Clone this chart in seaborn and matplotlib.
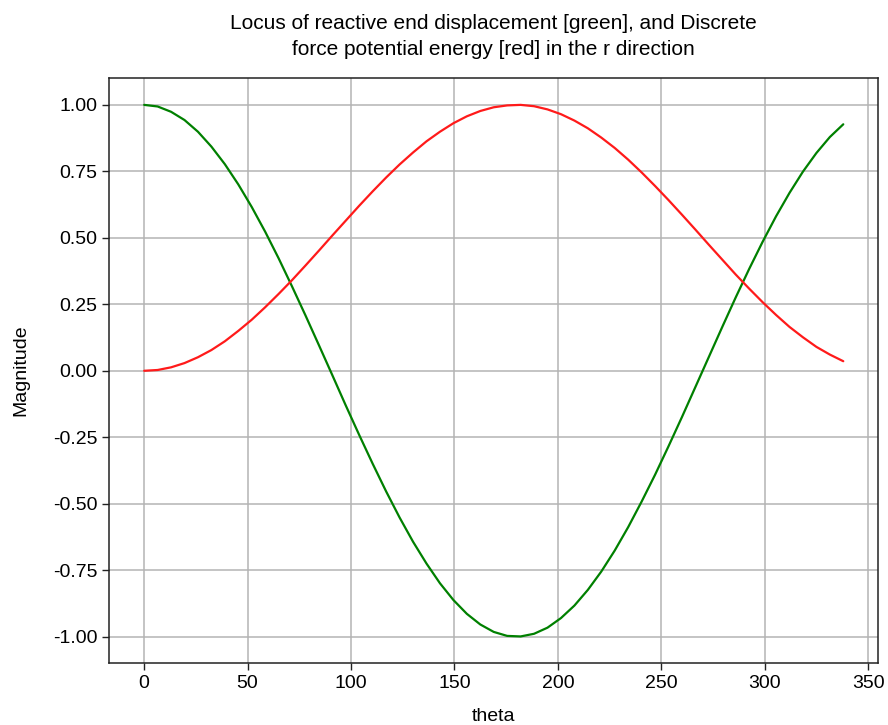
import matplotlib
matplotlib.use('Agg')
import matplotlib.pyplot as plt
import seaborn as sns

# theta in degrees
theta = [0, 6.5, 13, 19.5, 26, 32.5, 39, 45.5, 52, 58.5, 65, 71.5, 78, 84.5,
         91, 97.5, 104, 110.5, 117, 123.5, 130, 136.5, 143, 149.5, 156, 162.5,
         169, 175.5, 182, 188.5, 195, 201.5, 208, 214.5, 221, 227.5, 234,
         240.5, 247, 253.5, 260, 266.5, 273, 279.5, 286, 292.5, 299, 305.5,
         312, 318.5, 325, 331.5, 338]
displacement = [1.000, 0.994, 0.974, 0.943, 0.899, 0.843, 0.777, 0.701,
                0.616, 0.523, 0.423, 0.317, 0.208, 0.096, -0.017, -0.131,
                -0.242, -0.350, -0.454, -0.552, -0.643, -0.725, -0.799,
                -0.862, -0.914, -0.954, -0.982, -0.997, -0.999, -0.989,
                -0.966, -0.930, -0.883, -0.824, -0.755, -0.676, -0.588,
                -0.492, -0.391, -0.284, -0.174, -0.061, 0.052, 0.165,
                0.276, 0.383, 0.485, 0.581, 0.669, 0.749, 0.819, 0.879, 0.927]
potential = [0.000, 0.003, 0.013, 0.029, 0.051, 0.078, 0.111, 0.150, 0.192,
             0.239, 0.289, 0.341, 0.396, 0.452, 0.509, 0.565, 0.621, 0.675,
             0.727, 0.776, 0.821, 0.863, 0.899, 0.931, 0.957, 0.977, 0.991,
             0.998, 1.000, 0.995, 0.983, 0.965, 0.941, 0.912, 0.877, 0.838,
             0.794, 0.746, 0.695, 0.642, 0.587, 0.531, 0.474, 0.418, 0.362,
             0.309, 0.258, 0.210, 0.165, 0.126, 0.090, 0.061, 0.036]

sns.set_style('ticks')
plt.rcParams['font.family'] = ['Liberation Sans', 'DejaVu Sans']
plt.rcParams['text.color'] = 'black'
plt.rcParams['axes.labelcolor'] = 'black'

fig = plt.figure(figsize=(8.88, 7.25), dpi=100)
ax = fig.add_axes([0.123, 0.0855, 0.866, 0.8065])

sns.lineplot(x=theta, y=displacement, color='green', linewidth=1.6, ax=ax)
sns.lineplot(x=theta, y=potential, color='#ff1a1a', linewidth=1.6, ax=ax)

ax.set_yticks([1.0, 0.75, 0.5, 0.25, 0.0, -0.25, -0.5, -0.75, -1.0])
ax.set_yticklabels(['1.00', '0.75', '0.50', '0.25', '0.00', '-0.25', '-0.50', '-0.75', '-1.00'])
ax.set_xticks([0, 50, 100, 150, 200, 250, 300, 350])
ax.grid(True, color='#b4b4b4', linewidth=1.1)
ax.set_axisbelow(True)
for s in ax.spines.values():
    s.set_color('#222222')
    s.set_linewidth(1.1)
ax.tick_params(labelsize=14, colors='#222222', labelcolor='black', length=5, width=1)

ax.set_title('Locus of reactive end displacement [green], and Discrete\n'
             'force potential energy [red] in the r direction',
             fontsize=15, pad=17, linespacing=1.45)
ax.set_xlabel('theta', fontsize=14, labelpad=12)
ax.set_ylabel('Magnitude', fontsize=14, labelpad=17)

fig.savefig('out.png', dpi=100)
